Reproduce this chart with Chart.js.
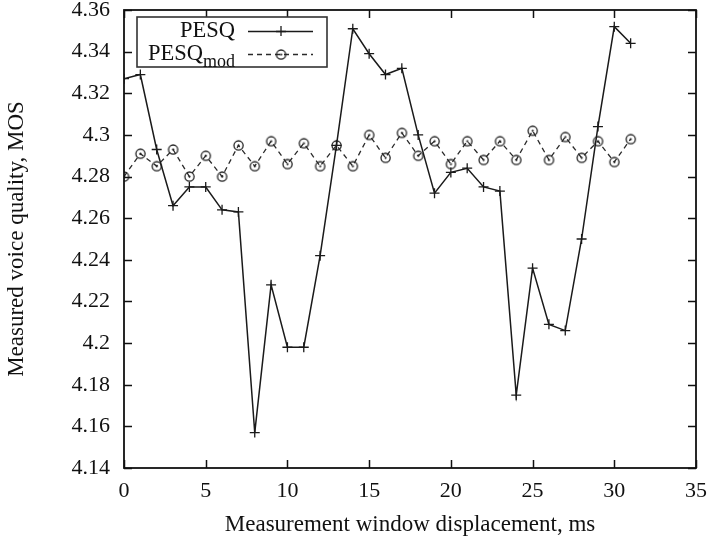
<!DOCTYPE html>
<html>
<head>
<meta charset="utf-8">
<script src="https://cdn.jsdelivr.net/npm/chart.js@4/dist/chart.umd.min.js"></script>
<style>
  html, body { margin: 0; padding: 0; background: #fff; }
  #wrap { width: 711px; height: 539px; }
</style>
</head>
<body>
<div id="wrap"><canvas id="c" width="711" height="539"></canvas></div>
<script>
// Window displacement in ms
const displacement = [0,1,2,3,4,5,6,7,8,9,10,11,12,13,14,15,16,17,18,19,20,21,22,23,24,25,26,27,28,29,30,31];
// Standard PESQ scores
const pesq = [4.327,4.329,4.293,4.266,4.275,4.275,4.264,4.263,4.157,4.228,4.198,4.198,4.242,4.295,4.351,4.339,
              4.329,4.332,4.300,4.272,4.282,4.284,4.275,4.273,4.175,4.236,4.209,4.206,4.250,4.304,4.352,4.344];
// Modified PESQ scores
const pesqMod = [4.280,4.291,4.285,4.293,4.280,4.290,4.280,4.295,4.285,4.297,4.286,4.296,4.285,4.295,4.285,4.300,
                 4.289,4.301,4.290,4.297,4.286,4.297,4.288,4.297,4.288,4.302,4.288,4.299,4.289,4.297,4.287,4.298];
const xTicks = [0,5,10,15,20,25,30,35];
const yTicks = [4.14,4.16,4.18,4.2,4.22,4.24,4.26,4.28,4.3,4.32,4.34,4.36];

const FONT = '"Liberation Serif", "DejaVu Serif", serif';
const INK = '#111';

// Open circle with a small centre dot, drawn once and reused as a point style
function circleDot(r) {
  const s = r * 2 + 4;
  const cv = document.createElement('canvas');
  cv.width = s; cv.height = s;
  const g = cv.getContext('2d');
  g.strokeStyle = '#222'; g.lineWidth = 1.3;
  g.beginPath(); g.arc(s / 2, s / 2, r, 0, Math.PI * 2); g.stroke();
  g.fillStyle = '#222';
  g.beginPath(); g.arc(s / 2, s / 2, 1.1, 0, Math.PI * 2); g.fill();
  return cv;
}
const circMarker = circleDot(4.6);

// Frame with inward ticks on all four sides (mirrored), plus the boxed legend
const framePlugin = {
  id: 'frame',
  afterDatasetsDraw(chart) {
    const { ctx, chartArea: a, scales } = chart;
    const tl = 8;
    ctx.save();
    ctx.strokeStyle = INK;
    ctx.lineWidth = 1.5;
    ctx.beginPath();
    xTicks.forEach(v => {
      const x = Math.round(scales.x.getPixelForValue(v)) + 0.5;
      ctx.moveTo(x, a.bottom); ctx.lineTo(x, a.bottom - tl);
      ctx.moveTo(x, a.top); ctx.lineTo(x, a.top + tl);
    });
    yTicks.forEach(v => {
      const y = Math.round(scales.y.getPixelForValue(v)) + 0.5;
      ctx.moveTo(a.left, y); ctx.lineTo(a.left + tl, y);
      ctx.moveTo(a.right, y); ctx.lineTo(a.right - tl, y);
    });
    ctx.stroke();
    ctx.lineWidth = 1.8;
    ctx.strokeRect(a.left, a.top, a.right - a.left, a.bottom - a.top);

    // legend box
    const bx = a.left + 13, by = a.top + 7, bw = 190, bh = 50;
    ctx.fillStyle = '#fff';
    ctx.fillRect(bx, by, bw, bh);
    ctx.strokeStyle = '#333';
    ctx.lineWidth = 1.6;
    ctx.strokeRect(bx, by, bw, bh);
    const textRight = bx + 98;
    const sx0 = bx + 111, sx1 = bx + 176, sm = bx + 144;
    chart.data.datasets.forEach((ds, i) => {
      const cy = by + 14 + i * 23;
      ctx.fillStyle = INK;
      ctx.textBaseline = 'middle';
      ctx.textAlign = 'right';
      if (ds.sub) {
        ctx.font = '18px ' + FONT;
        const sw = ctx.measureText(ds.sub).width;
        ctx.fillText(ds.sub, textRight, cy + 8);
        ctx.font = '22.5px ' + FONT;
        ctx.fillText(ds.label, textRight - sw, cy);
      } else {
        ctx.font = '22.5px ' + FONT;
        ctx.fillText(ds.label, textRight, cy);
      }
      ctx.strokeStyle = ds.borderColor;
      ctx.lineWidth = ds.borderWidth;
      ctx.setLineDash(ds.borderDash || []);
      ctx.beginPath(); ctx.moveTo(sx0, cy + 0.5); ctx.lineTo(sx1, cy + 0.5); ctx.stroke();
      ctx.setLineDash([]);
      if (ds.pointStyle === 'cross') {
        ctx.lineWidth = 1.3;
        ctx.beginPath();
        ctx.moveTo(sm - 5, cy + 0.5); ctx.lineTo(sm + 5, cy + 0.5);
        ctx.moveTo(sm, cy - 5); ctx.lineTo(sm, cy + 5);
        ctx.stroke();
      } else {
        ctx.drawImage(ds.pointStyle, sm - ds.pointStyle.width / 2, cy - ds.pointStyle.height / 2 + 0.5);
      }
    });
    ctx.restore();
  }
};

new Chart(document.getElementById('c'), {
  type: 'line',
  data: {
    datasets: [
      {
        label: 'PESQ',
        data: displacement.map((x, i) => ({ x, y: pesq[i] })),
        borderColor: '#1a1a1a',
        borderWidth: 1.5,
        pointStyle: 'cross',
        pointRadius: 5,
        pointBorderWidth: 1.3,
        pointBorderColor: '#1a1a1a',
        tension: 0,
        fill: false
      },
      {
        label: 'PESQ',
        sub: 'mod',
        data: displacement.map((x, i) => ({ x, y: pesqMod[i] })),
        borderColor: '#2a2a2a',
        borderWidth: 1.3,
        borderDash: [5, 4],
        pointStyle: circMarker,
        pointRadius: 5,
        tension: 0,
        fill: false
      }
    ]
  },
  options: {
    responsive: false,
    animation: false,
    events: [],
    layout: { padding: { top: 10, right: 15, left: 0, bottom: 0 } },
    plugins: { legend: { display: false }, tooltip: { enabled: false } },
    scales: {
      x: {
        type: 'linear',
        min: 0, max: 35,
        afterFit(s) { s.height = 71; s.paddingLeft = 0; s.paddingRight = 0; },
        afterBuildTicks(s) { s.ticks = xTicks.map(v => ({ value: v })); },
        grid: { display: false, drawTicks: false },
        border: { display: false },
        ticks: { color: INK, font: { family: FONT, size: 22 }, padding: 10, maxRotation: 0 },
        title: { display: true, text: 'Measurement window displacement, ms', color: INK,
                 font: { family: FONT, size: 23 }, padding: { top: 4, bottom: 0 } }
      },
      y: {
        min: 4.14, max: 4.36,
        afterFit(s) { s.width = 124; s.paddingTop = 0; s.paddingBottom = 0; },
        afterBuildTicks(s) { s.ticks = yTicks.map(v => ({ value: v })); },
        grid: { display: false, drawTicks: false },
        border: { display: false },
        ticks: { color: INK, font: { family: FONT, size: 22 }, padding: 14,
                 callback: v => String(Number(v.toFixed(2))) },
        title: { display: true, text: 'Measured voice quality, MOS', color: INK,
                 font: { family: FONT, size: 23 }, padding: { top: 3, bottom: 4 } }
      }
    }
  },
  plugins: [framePlugin]
});
</script>
</body>
</html>
